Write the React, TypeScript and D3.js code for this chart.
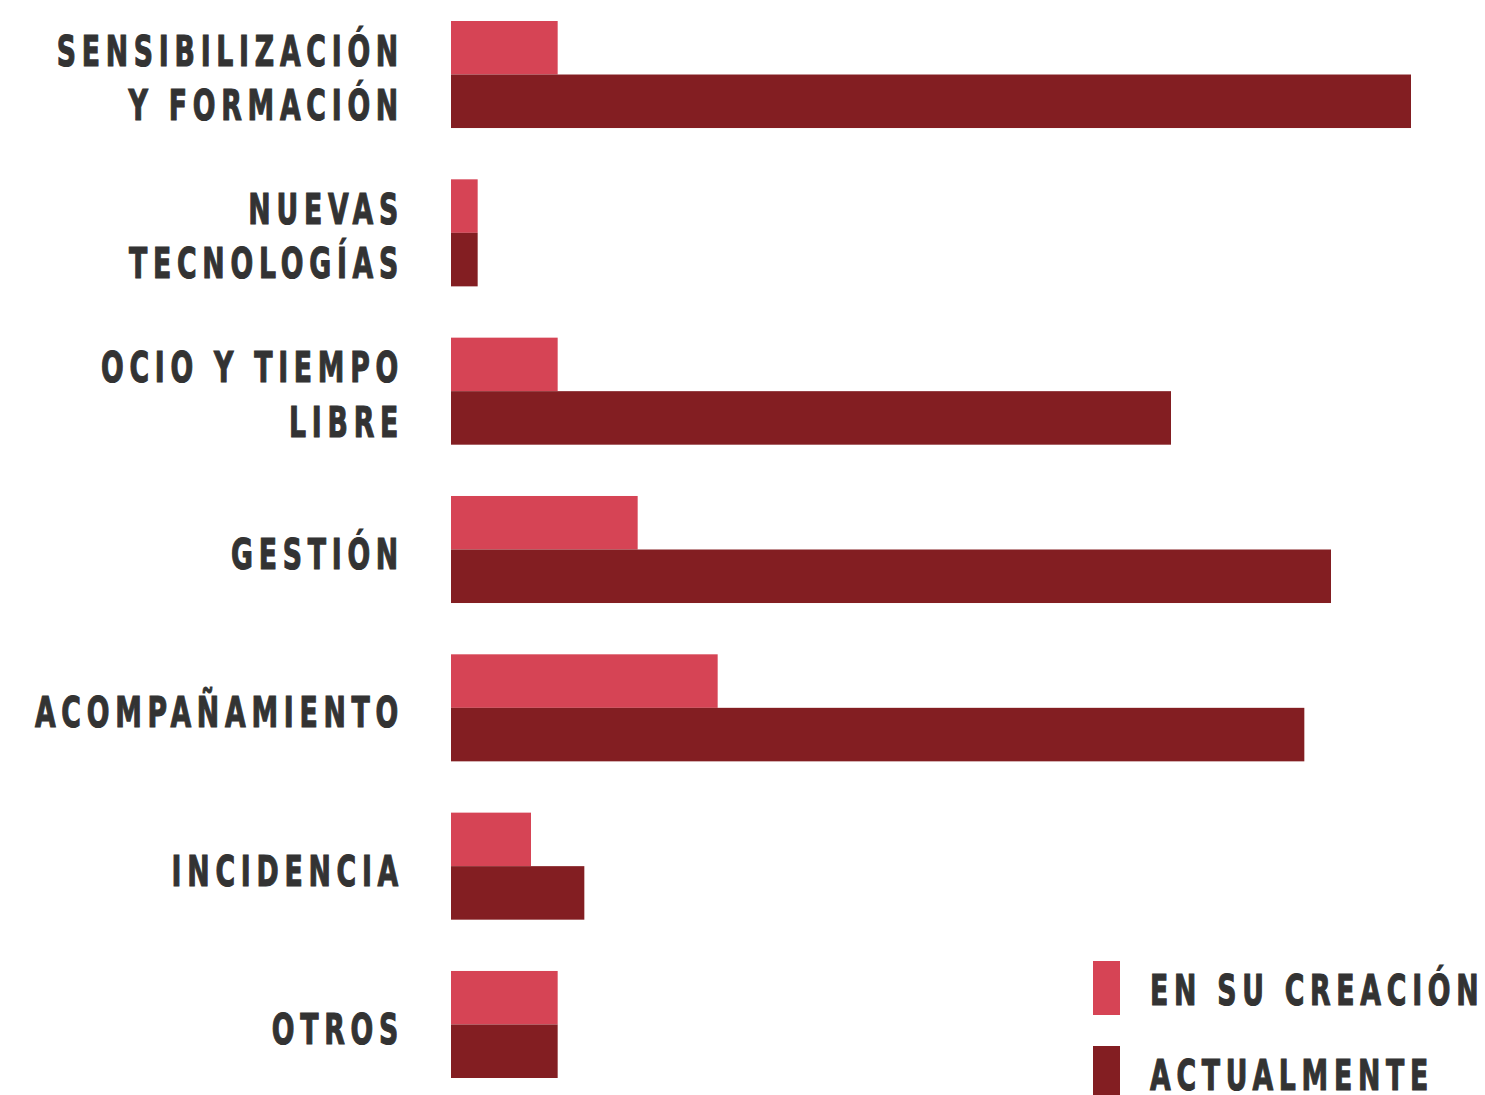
import React from 'react';
import * as d3 from 'd3';

const categories = [
  ['SENSIBILIZACIÓN', 'Y FORMACIÓN'],
  ['NUEVAS', 'TECNOLOGÍAS'],
  ['OCIO Y TIEMPO', 'LIBRE'],
  ['GESTIÓN'],
  ['ACOMPAÑAMIENTO'],
  ['INCIDENCIA'],
  ['OTROS'],
];
const enSuCreacion = [4, 1, 4, 7, 10, 3, 4];
const actualmente = [36, 1, 27, 33, 32, 5, 4];
const seriesNames = ['EN SU CREACIÓN', 'ACTUALMENTE'];
const colors = ['#d64455', '#831e22'];

const W = 1485;
const H = 1095;
// no condensed font available: squeeze DejaVu Sans Bold horizontally
const SQUEEZE = 0.637;

export default function App() {
  const x = d3.scaleLinear().domain([0, 36]).range([451, 1411]);
  const y = d3
    .scaleBand<number>()
    .domain(d3.range(categories.length))
    .range([21, 1078])
    .paddingInner(0.324)
    .paddingOuter(0);
  const half = y.bandwidth() / 2;
  const textStyle: React.CSSProperties = {
    fontFamily: "'DejaVu Sans', sans-serif",
    fontWeight: 700,
    fontSize: 42,
    letterSpacing: 9,
    fill: '#333333',
    stroke: '#333333',
    strokeWidth: 1.2,
  };

  return (
    <svg width={W} height={H} style={{ position: 'absolute', left: 0, top: 0, background: '#fff' }}>
      {categories.map((lines, i) => {
        const y0 = y(i)!;
        const cy = y0 + half;
        return (
          <g key={i}>
            <rect x={x(0)} y={y0} width={x(enSuCreacion[i]) - x(0)} height={half} fill={colors[0]} />
            <rect x={x(0)} y={y0 + half} width={x(actualmente[i]) - x(0)} height={half} fill={colors[1]} />
            {lines.map((t, j) => {
              const ty = lines.length === 1 ? cy + 19.5 : cy - 9 + j * 54.5;
              return (
                <text
                  key={j}
                  transform={`translate(404,${ty}) scale(${SQUEEZE},1)`}
                  textAnchor="end"
                  style={textStyle}
                >
                  {t}
                </text>
              );
            })}
          </g>
        );
      })}
      {seriesNames.map((s, i) => (
        <g key={s}>
          <rect x={1093} y={961 + i * 85} width={27} height={54} fill={colors[i]} />
          <text transform={`translate(1150,${1004.5 + i * 85.5}) scale(${SQUEEZE},1)`} style={textStyle}>
            {s}
          </text>
        </g>
      ))}
    </svg>
  );
}
